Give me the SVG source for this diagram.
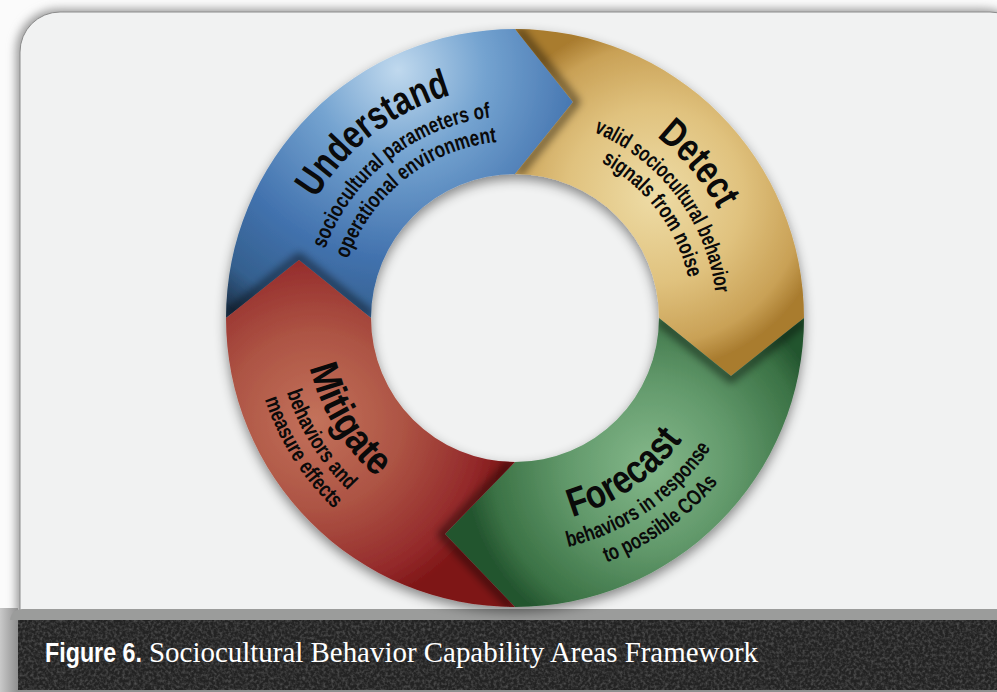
<svg xmlns="http://www.w3.org/2000/svg" xmlns:xlink="http://www.w3.org/1999/xlink" width="997" height="692" viewBox="0 0 997 692">
<style>
.ttl{font-family:"Liberation Sans Narrow","Liberation Sans",Arial,sans-serif;font-weight:bold;font-size:40px;fill:#0a0a0a}
.sub{font-family:"Liberation Sans Narrow","Liberation Sans",Arial,sans-serif;font-weight:bold;font-size:22px;fill:#0a0a0a}
.shd{fill:none;stroke:#000;stroke-width:7;stroke-opacity:.55;filter:url(#blur4)}
</style>
<defs>
<filter id="cardShadow" x="-5%" y="-5%" width="110%" height="110%"><feGaussianBlur stdDeviation="5"/></filter>
<filter id="ringShadow" x="-10%" y="-10%" width="120%" height="125%"><feDropShadow dx="0" dy="5" stdDeviation="6" flood-color="#000" flood-opacity="0.45"/></filter>
<filter id="blur4" x="-20%" y="-20%" width="140%" height="140%"><feGaussianBlur stdDeviation="4"/></filter>
<filter id="grain" x="0" y="0" width="100%" height="100%">
<feTurbulence type="fractalNoise" baseFrequency="0.35" numOctaves="2" seed="3" result="n"/>
<feColorMatrix in="n" type="matrix" values="0 0 0 0 0.25  0 0 0 0 0.25  0 0 0 0 0.25  0 0 0 0.9 -0.35" result="m"/>
<feComposite in="m" in2="SourceGraphic" operator="in"/>
</filter>
<radialGradient id="gBlue" gradientUnits="userSpaceOnUse" cx="398" cy="70" r="290">
<stop offset="0" stop-color="#c0d9ee"/><stop offset="0.3" stop-color="#74a3d0"/><stop offset="0.65" stop-color="#4272ae"/><stop offset="0.88" stop-color="#34608f"/><stop offset="1" stop-color="#1f3650"/>
</radialGradient>
<radialGradient id="gGold" gradientUnits="userSpaceOnUse" cx="655" cy="195" r="175">
<stop offset="0" stop-color="#eedca6"/><stop offset="0.5" stop-color="#e0c27e"/><stop offset="0.85" stop-color="#c9a156"/><stop offset="1" stop-color="#a97c2f"/>
</radialGradient>
<radialGradient id="gGreen" gradientUnits="userSpaceOnUse" cx="650" cy="465" r="185">
<stop offset="0" stop-color="#84b88a"/><stop offset="0.45" stop-color="#62996b"/><stop offset="0.85" stop-color="#3b7245"/><stop offset="1" stop-color="#23542e"/>
</radialGradient>
<radialGradient id="gRed" gradientUnits="userSpaceOnUse" cx="315" cy="420" r="195">
<stop offset="0" stop-color="#c3725b"/><stop offset="0.45" stop-color="#ad5444"/><stop offset="0.85" stop-color="#93292a"/><stop offset="1" stop-color="#7e1616"/>
</radialGradient>
<linearGradient id="gLeft" x1="0" y1="0" x2="1" y2="0">
<stop offset="0" stop-color="#c9c9c9"/><stop offset="1" stop-color="#8f8f8f"/>
</linearGradient>
<path id="segBlue" d="M226,318 A289,289 0 0,1 515,29 L573,102 L515,174 A144,144 0 0,0 371,318 L299,260 Z"/>
<path id="segGold" d="M515,29 A289,289 0 0,1 804,318 L731,376 L659,318 A144,144 0 0,0 515,174 L573,102 Z"/>
<path id="segGreen" d="M804,318 A289,289 0 0,1 515,607 L445,534 L515,462 A144,144 0 0,0 659,318 L731,376 Z"/>
<path id="segRed" d="M515,607 A289,289 0 0,1 226,318 L299,260 L371,318 A144,144 0 0,0 515,462 L445,534 Z"/>
<clipPath id="cGold"><use xlink:href="#segGold"/></clipPath>
<clipPath id="cGreen"><use xlink:href="#segGreen"/></clipPath>
<clipPath id="cRed"><use xlink:href="#segRed"/></clipPath>
<clipPath id="cBlue"><use xlink:href="#segBlue"/></clipPath>
<path id="pU0" d="M316.1,198.5 A232,232 0 0,1 451.1,95.0"/>
<path id="pU1" d="M325.2,248.9 A202,202 0 0,1 490.4,117.5"/>
<path id="pU2" d="M348.2,258.9 A177,177 0 0,1 496.5,142.0"/>
<path id="pD0" d="M656.6,136.8 A230,230 0 0,1 718.1,210.0"/>
<path id="pD1" d="M593.9,132.1 A202,202 0 0,1 715.5,293.4"/>
<path id="pD2" d="M601.3,162.3 A178,178 0 0,1 688.4,278.0"/>
<path id="pF0" d="M572.1,517.0 A207,207 0 0,0 682.5,439.7"/>
<path id="pF1" d="M567.9,547.0 A235,235 0 0,0 711.0,447.7"/>
<path id="pF2" d="M606.4,562.5 A261,261 0 0,0 717.8,482.2"/>
<path id="pM0" d="M309.8,367.3 A211,211 0 0,0 376.6,477.2"/>
<path id="pM1" d="M286.7,392.2 A240,240 0 0,0 348.3,490.6"/>
<path id="pM2" d="M264.9,399.3 A263,263 0 0,0 334.0,508.8"/>
</defs>

<!-- page background and card -->
<rect x="0" y="0" width="997" height="692" fill="#fbfbfb"/>
<rect x="16" y="9" width="1010" height="640" rx="42" fill="#9a9a9a" filter="url(#cardShadow)"/>
<rect x="20" y="12" width="1010" height="640" rx="40" fill="#f1f2f2" stroke="#8c8c8c" stroke-width="1"/>

<!-- bottom caption band -->
<rect x="0" y="608" width="18" height="84" fill="url(#gLeft)"/>
<path d="M10,622 Q10,610 22,609 L997,609 L997,620 L10,620 Z" fill="#9b9c9b"/>
<rect x="18" y="620" width="979" height="70" fill="#232323"/>
<rect x="18" y="620" width="979" height="70" fill="#232323" filter="url(#grain)"/>
<rect x="18" y="690" width="979" height="2" fill="#8f8f8f"/>
<text x="45" y="662" font-family="'Liberation Sans Narrow','Liberation Sans',Arial,sans-serif" font-weight="bold" font-size="27" fill="#ffffff" textLength="97" lengthAdjust="spacingAndGlyphs">Figure 6.</text>
<text x="149" y="662" font-family="'Liberation Serif','Times New Roman',serif" font-size="29" fill="#ffffff" textLength="609" lengthAdjust="spacingAndGlyphs">Sociocultural Behavior Capability Areas Framework</text>

<!-- ring -->
<g id="ring" filter="url(#ringShadow)">
<g id="understand"><use xlink:href="#segBlue" fill="url(#gBlue)"/></g>
<g id="detect"><use xlink:href="#segGold" fill="url(#gGold)"/></g>
<g id="forecast"><use xlink:href="#segGreen" fill="url(#gGreen)"/></g>
<g id="mitigate"><use xlink:href="#segRed" fill="url(#gRed)"/></g>
</g>

<!-- connectors: arrowhead shadows onto the next segment -->
<g id="connectors">
<g clip-path="url(#cGold)"><polyline class="shd" points="518,29 576,102 518,174"/></g>
<g clip-path="url(#cGreen)"><polyline class="shd" points="804,321 731,379 659,321"/></g>
<g clip-path="url(#cRed)"><polyline class="shd" points="512,607 442,534 512,462"/></g>
<g clip-path="url(#cBlue)"><polyline class="shd" points="226,315 299,257 371,315"/></g>
</g>

<!-- labels -->
<g id="understand-label">
<text class="ttl"><textPath xlink:href="#pU0" textLength="174" lengthAdjust="spacingAndGlyphs">Understand</textPath></text>
<text class="sub"><textPath xlink:href="#pU1" textLength="222" lengthAdjust="spacingAndGlyphs">sociocultural parameters of</textPath></text>
<text class="sub"><textPath xlink:href="#pU2" textLength="199" lengthAdjust="spacingAndGlyphs">operational environment</textPath></text>
</g>
<g id="detect-label">
<text class="ttl"><textPath xlink:href="#pD0" textLength="96" lengthAdjust="spacingAndGlyphs">Detect</textPath></text>
<text class="sub"><textPath xlink:href="#pD1" textLength="211" lengthAdjust="spacingAndGlyphs">valid sociocultural behavior</textPath></text>
<text class="sub"><textPath xlink:href="#pD2" textLength="149" lengthAdjust="spacingAndGlyphs">signals from noise</textPath></text>
</g>
<g id="forecast-label">
<text class="ttl"><textPath xlink:href="#pF0" textLength="137" lengthAdjust="spacingAndGlyphs">Forecast</textPath></text>
<text class="sub"><textPath xlink:href="#pF1" textLength="178" lengthAdjust="spacingAndGlyphs">behaviors in response</textPath></text>
<text class="sub"><textPath xlink:href="#pF2" textLength="139" lengthAdjust="spacingAndGlyphs">to possible COAs</textPath></text>
</g>
<g id="mitigate-label">
<text class="ttl"><textPath xlink:href="#pM0" textLength="131" lengthAdjust="spacingAndGlyphs">Mitigate</textPath></text>
<text class="sub"><textPath xlink:href="#pM1" textLength="117" lengthAdjust="spacingAndGlyphs">behaviors and</textPath></text>
<text class="sub"><textPath xlink:href="#pM2" textLength="131" lengthAdjust="spacingAndGlyphs">measure effects</textPath></text>
</g>
</svg>
